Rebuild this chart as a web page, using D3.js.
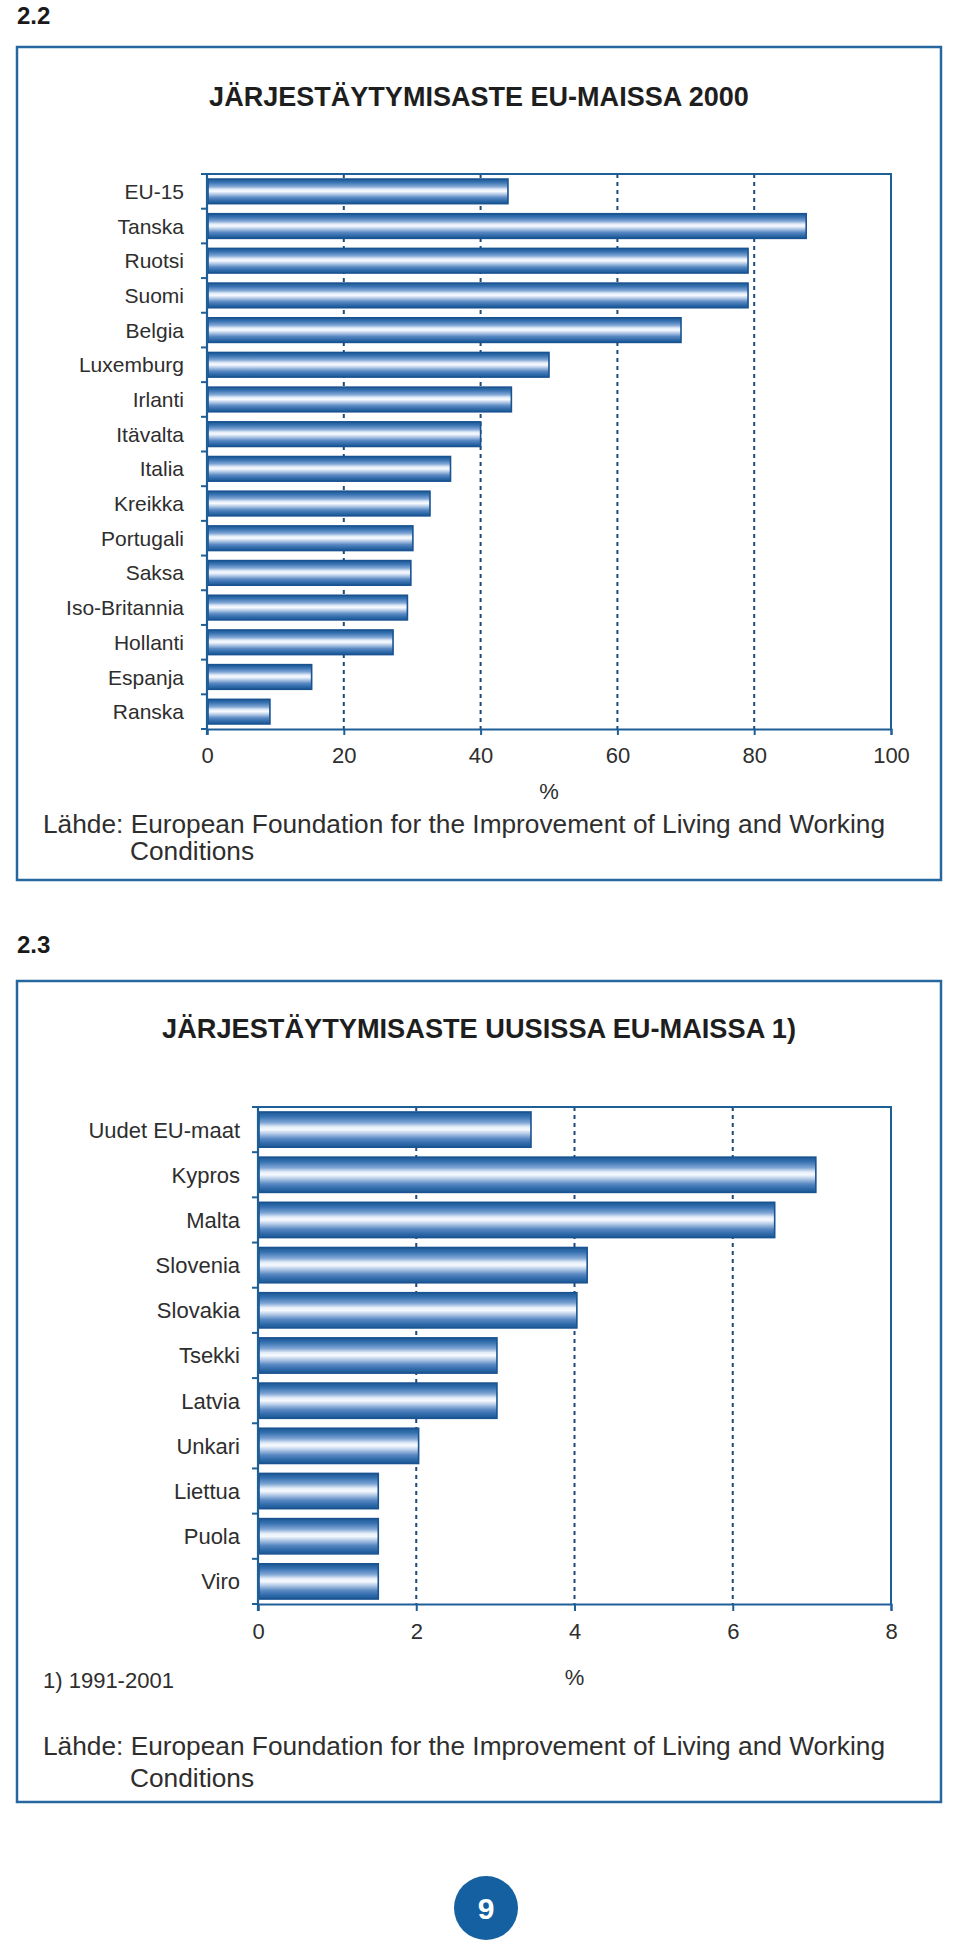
<!DOCTYPE html>
<html>
<head>
<meta charset="utf-8">
<script src="https://cdn.jsdelivr.net/npm/d3@7"></script>
<style>
  html, body { margin: 0; padding: 0; background: #fff; }
  svg { display: block; }
  text { font-family: "Liberation Sans", Arial, Helvetica, sans-serif; }
</style>
</head>
<body>
<svg id="chart" width="960" height="1952"></svg>
<script>
// ---------- DATA ----------
const categories1 = ["EU-15","Tanska","Ruotsi","Suomi","Belgia","Luxemburg","Irlanti","Itävalta","Italia","Kreikka","Portugali","Saksa","Iso-Britannia","Hollanti","Espanja","Ranska"];
const values1 = [44, 87.6, 79.1, 79.1, 69.3, 50, 44.5, 40, 35.6, 32.6, 30.1, 29.8, 29.3, 27.2, 15.3, 9.2];
const ticks1 = [0, 20, 40, 60, 80, 100];
const title1 = "JÄRJESTÄYTYMISASTE EU-MAISSA 2000";

const categories2 = ["Uudet EU-maat","Kypros","Malta","Slovenia","Slovakia","Tsekki","Latvia","Unkari","Liettua","Puola","Viro"];
const values2 = [3.45, 7.05, 6.53, 4.16, 4.03, 3.02, 3.02, 2.03, 1.52, 1.52, 1.52];
const ticks2 = [0, 2, 4, 6, 8];
const title2 = "JÄRJESTÄYTYMISASTE UUSISSA EU-MAISSA 1)";

const sourceLine1 = "Lähde: European Foundation for the Improvement of Living and Working";
const sourceLine2 = "Conditions";
const footnote2 = "1) 1991-2001";
const axisUnit = "%";
const pageNumber = "9";

// ---------- STYLE ----------
const frameColor = "#27679f";
const axisColor = "#1f5f98";
const gridColor = "#1d4a78";
const textColor = "#2e2e2e";

const svg = d3.select("#chart");

// gradient for bars
const defs = svg.append("defs");
const grad = defs.append("linearGradient").attr("id", "barGrad")
  .attr("x1", 0).attr("y1", 0).attr("x2", 0).attr("y2", 1);
[[0, "#1b5894"], [0.14, "#3a74b3"], [0.30, "#7fa5d4"], [0.42, "#e4edf8"], [0.50, "#f7faff"],
 [0.60, "#bcd0ea"], [0.76, "#5888c2"], [0.90, "#2d68a8"], [1, "#1b5894"]]
  .forEach(([o, c]) => grad.append("stop").attr("offset", o).attr("stop-color", c));

function fitText(sel, target) {
  const node = sel.node();
  const fs = parseFloat(sel.attr("font-size"));
  const len = node.getComputedTextLength();
  if (len > 0) sel.attr("font-size", (fs * target / len).toFixed(2));
}

function drawChart(cfg) {
  const g = svg.append("g");
  // frame
  g.append("rect").attr("x", cfg.frame[0]).attr("y", cfg.frame[1])
    .attr("width", cfg.frame[2] - cfg.frame[0]).attr("height", cfg.frame[3] - cfg.frame[1])
    .attr("fill", "none").attr("stroke", frameColor).attr("stroke-width", 2.5);
  // section label
  g.append("text").attr("x", 17).attr("y", cfg.secY).attr("font-size", 24)
    .attr("font-weight", "bold").attr("fill", "#1a1a1a").text(cfg.section);
  // title
  const t = g.append("text").attr("x", 479).attr("y", cfg.titleY).attr("text-anchor", "middle")
    .attr("font-size", 26).attr("font-weight", "bold").attr("fill", "#1e1e1e").text(cfg.title);
  fitText(t, cfg.titleW);

  const x = d3.scaleLinear().domain(cfg.domain).range([cfg.plot[0], cfg.plot[2]]);
  const y = d3.scaleBand().domain(cfg.cats).range([cfg.plot[1], cfg.plot[3]])
    .paddingInner(cfg.pad).paddingOuter(cfg.pad / 2);

  // grid (dotted)
  g.append("g").selectAll("line").data(cfg.ticks.filter(d => d > cfg.domain[0] && d < cfg.domain[1]))
    .join("line")
    .attr("x1", d => x(d)).attr("x2", d => x(d))
    .attr("y1", cfg.plot[1]).attr("y2", cfg.plot[3])
    .attr("stroke", gridColor).attr("stroke-width", 2).attr("stroke-dasharray", "4,4");

  // top & right frame of plot
  g.append("path")
    .attr("d", `M${x(cfg.domain[0])},${cfg.plot[1]}H${x(cfg.domain[1])}V${cfg.plot[3]}`)
    .attr("fill", "none").attr("stroke", axisColor).attr("stroke-width", 2);

  // bars
  g.append("g").selectAll("rect").data(cfg.cats.map((c, i) => ({ c, v: cfg.vals[i] })))
    .join("rect")
    .attr("x", x(0) + 1).attr("y", d => y(d.c))
    .attr("width", d => x(d.v) - x(0) - 1).attr("height", y.bandwidth())
    .attr("fill", "url(#barGrad)").attr("stroke", "#1a5391").attr("stroke-width", 1.6);

  // bottom axis
  const xAxis = d3.axisBottom(x).tickValues(cfg.ticks).tickSize(cfg.tickLen).tickPadding(12)
    .tickFormat(d3.format("d"));
  const ax = g.append("g").attr("transform", `translate(0,${cfg.plot[3]})`).call(xAxis);
  ax.select(".domain").attr("stroke", axisColor).attr("stroke-width", 2);
  ax.selectAll(".tick line").attr("stroke", axisColor).attr("stroke-width", 2);
  ax.selectAll(".tick text").attr("fill", textColor).attr("font-size", 22)
    .attr("font-family", '"Liberation Sans", Arial, sans-serif');

  // left axis with ticks at band boundaries
  g.append("line").attr("x1", x(0)).attr("x2", x(0))
    .attr("y1", cfg.plot[1]).attr("y2", cfg.plot[3] + cfg.tickLen)
    .attr("stroke", axisColor).attr("stroke-width", 2.2);
  const bounds = d3.range(cfg.cats.length + 1).map(i => cfg.plot[1] + i * y.step());
  g.append("g").selectAll("line").data(bounds).join("line")
    .attr("x1", x(0) - 6).attr("x2", x(0)).attr("y1", d => d).attr("y2", d => d)
    .attr("stroke", axisColor).attr("stroke-width", 2);

  // category labels
  g.append("g").selectAll("text").data(cfg.cats).join("text")
    .attr("x", cfg.labelX).attr("y", d => y(d) + y.bandwidth() / 2)
    .attr("dy", "0.36em").attr("text-anchor", "end")
    .attr("font-size", cfg.labelSize).attr("fill", textColor).text(d => d);

  // unit
  g.append("text").attr("x", (cfg.plot[0] + cfg.plot[2]) / 2).attr("y", cfg.unitY)
    .attr("text-anchor", "middle").attr("font-size", 22).attr("fill", textColor).text(axisUnit);

  if (cfg.footnote) {
    g.append("text").attr("x", 43).attr("y", cfg.footY).attr("font-size", 22)
      .attr("fill", textColor).text(cfg.footnote);
  }

  // source
  const s1 = g.append("text").attr("x", 43).attr("y", cfg.srcY[0]).attr("font-size", 24)
    .attr("fill", textColor).text(sourceLine1);
  fitText(s1, 842);
  g.append("text").attr("x", 130).attr("y", cfg.srcY[1]).attr("font-size", s1.attr("font-size"))
    .attr("fill", textColor).text(sourceLine2);
}

drawChart({
  section: "2.2", secY: 24,
  frame: [17, 47, 941, 880],
  title: title1, titleY: 106, titleW: 540,
  plot: [207, 174, 891, 729],
  domain: [0, 100], ticks: ticks1, tickLen: 6,
  cats: categories1, vals: values1, pad: 0.29,
  labelX: 184, labelSize: 21,
  unitY: 799,
  srcY: [833, 860]
});

drawChart({
  section: "2.3", secY: 953,
  frame: [17, 981, 941, 1802],
  title: title2, titleY: 1038, titleW: 634,
  plot: [258, 1107, 891, 1604],
  domain: [0, 8], ticks: ticks2, tickLen: 7,
  cats: categories2, vals: values2, pad: 0.22,
  labelX: 240, labelSize: 22,
  unitY: 1685, footnote: footnote2, footY: 1688,
  srcY: [1755, 1787]
});

// page number
svg.append("circle").attr("cx", 486).attr("cy", 1908).attr("r", 32).attr("fill", "#1560a0");
svg.append("text").attr("x", 486).attr("y", 1908).attr("dy", "0.36em").attr("text-anchor", "middle")
  .attr("font-size", 30).attr("font-weight", "bold").attr("fill", "#fff").text(pageNumber);
</script>
</body>
</html>
